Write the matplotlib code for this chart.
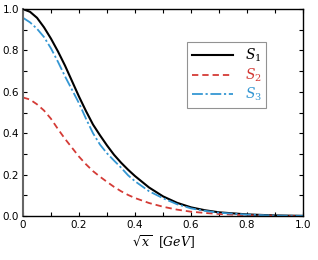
import matplotlib.pyplot as plt
import numpy as np

# values
x = [0, 0.025, 0.05, 0.075, 0.1, 0.125, 0.15, 0.175, 0.2, 0.225, 0.25, 0.275,
     0.3, 0.325, 0.35, 0.375, 0.4, 0.45, 0.5, 0.55, 0.6, 0.65, 0.7, 0.8, 0.9, 1.0]
s1 = [1.0, 0.987, 0.958, 0.912, 0.857, 0.795, 0.727, 0.652, 0.577, 0.507, 0.442, 0.39,
      0.341, 0.296, 0.258, 0.224, 0.193, 0.138, 0.095, 0.064, 0.042, 0.028, 0.018,
      0.008, 0.003, 0.001]
s2 = [0.573, 0.563, 0.54, 0.51, 0.47, 0.42, 0.373, 0.33, 0.287, 0.25, 0.217, 0.19,
      0.165, 0.141, 0.12, 0.102, 0.087, 0.063, 0.045, 0.031, 0.021, 0.015, 0.01,
      0.004, 0.001, 0.0]
s3 = [0.958, 0.936, 0.905, 0.865, 0.81, 0.745, 0.675, 0.61, 0.545, 0.47, 0.40, 0.345,
      0.303, 0.268, 0.234, 0.197, 0.168, 0.12, 0.086, 0.057, 0.037, 0.025, 0.016,
      0.007, 0.002, 0.001]

labels = ['$S_1$', '$S_2$', '$S_3$']
colors = ['black', '#d43b36', '#3597d3']

plt.rcParams['mathtext.fontset'] = 'dejavuserif'

fig = plt.figure(figsize=(3.18, 2.6), dpi=100)
ax = fig.add_axes([0.0723, 0.169, 0.881, 0.796])

ax.plot(x, s1, color=colors[0], lw=1.5, ls='-', label=labels[0])
ax.plot(x, s2, color=colors[1], lw=1.3, ls=(0, (3.5, 2.2)), label=labels[1])
ax.plot(x, s3, color=colors[2], lw=1.3, ls=(0, (6, 1.5, 1.2, 1.5)), label=labels[2])

ax.set_xlim(0, 1)
ax.set_ylim(0, 1)
ax.set_xticks(np.arange(0, 1.01, 0.2))
ax.set_xticklabels(['0', '0.2', '0.4', '0.6', '0.8', '1.0'])
ax.set_yticks(np.arange(0, 1.01, 0.2))
ax.set_yticklabels(['0.0', '0.2', '0.4', '0.6', '0.8', '1.0'])
ax.set_xticks(np.arange(0.1, 1.0, 0.2), minor=True)
ax.set_yticks(np.arange(0.1, 1.0, 0.2), minor=True)
ax.tick_params(which='both', direction='in', top=True, right=True,
               labelsize=7.5, length=3, width=0.8, pad=3)

ax.spines['left'].set_color('#666666')
ax.spines['left'].set_linewidth(1.5)
for s in ['top', 'right', 'bottom']:
    ax.spines[s].set_linewidth(1.0)

ax.set_xlabel(r'$\sqrt{x}\ \ [GeV]$', fontsize=9, labelpad=2)

leg = ax.legend(loc='upper left', bbox_to_anchor=(0.585, 0.84), fontsize=10,
                frameon=True, fancybox=False, edgecolor='#777777',
                handlelength=3.0, handletextpad=0.8, borderpad=0.35,
                labelspacing=0.15, borderaxespad=0)
leg.get_frame().set_linewidth(0.8)
for t, c in zip(leg.get_texts(), colors):
    t.set_color(c)

fig.savefig('out.png', dpi=100)
